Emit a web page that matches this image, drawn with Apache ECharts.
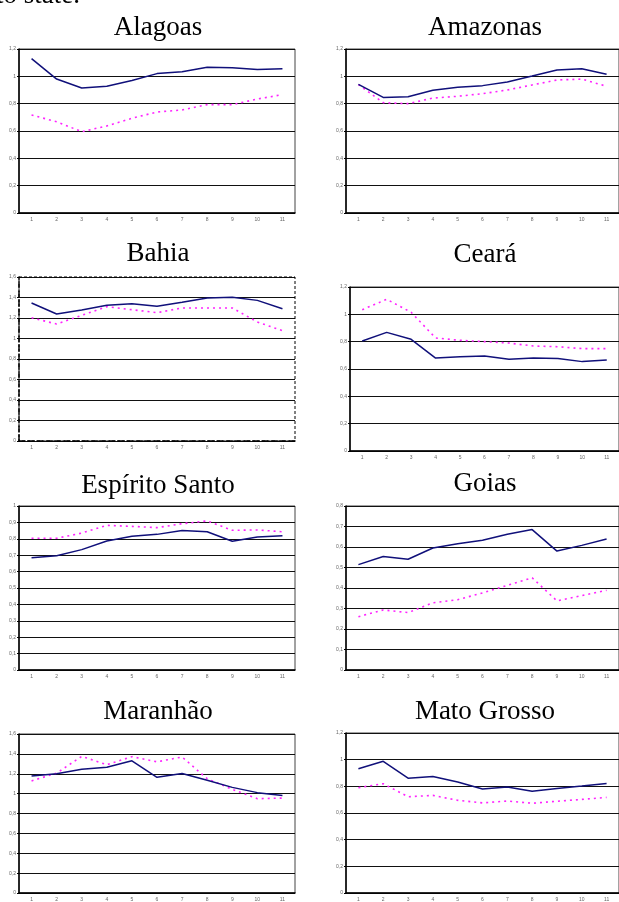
<!DOCTYPE html>
<html>
<head>
<meta charset="utf-8">
<script src="https://cdn.jsdelivr.net/npm/echarts@6/dist/echarts.min.js"></script>
<style>
    html, body { margin: 0; padding: 0; background: #fff; }
    #main { width: 619px; height: 902px; }
</style>
</head>
<body>
<div id="main"></div>
<script>
var cats = ['1', '2', '3', '4', '5', '6', '7', '8', '9', '10', '11'];

// valores (linha azul / linha rosa pontilhada)
var alagoasA = [1.13, 0.98, 0.915, 0.927, 0.97, 1.02, 1.034, 1.066, 1.063, 1.05, 1.056];
var alagoasB = [0.717, 0.668, 0.595, 0.637, 0.693, 0.739, 0.754, 0.793, 0.793, 0.834, 0.866];
var amazonasA = [0.941, 0.846, 0.851, 0.898, 0.92, 0.932, 0.959, 1.002, 1.046, 1.056, 1.015];
var amazonasB = [0.94, 0.807, 0.80, 0.841, 0.854, 0.873, 0.90, 0.937, 0.973, 0.98, 0.927];
var bahiaA = [1.346, 1.239, 1.278, 1.324, 1.34, 1.314, 1.353, 1.395, 1.402, 1.372, 1.291];
var bahiaB = [1.203, 1.141, 1.226, 1.311, 1.281, 1.252, 1.298, 1.298, 1.298, 1.161, 1.076];
var cearaA = [0.805, 0.868, 0.817, 0.68, 0.69, 0.695, 0.671, 0.68, 0.676, 0.654, 0.666];
var cearaB = [1.034, 1.11, 1.015, 0.827, 0.81, 0.80, 0.79, 0.768, 0.763, 0.749, 0.749];
var espiritoA = [0.685, 0.697, 0.734, 0.787, 0.815, 0.827, 0.85, 0.843, 0.785, 0.811, 0.819];
var espiritoB = [0.803, 0.803, 0.835, 0.882, 0.876, 0.868, 0.892, 0.909, 0.852, 0.854, 0.843];
var goiasA = [0.514, 0.554, 0.54, 0.595, 0.616, 0.633, 0.662, 0.685, 0.58, 0.608, 0.639];
var goiasB = [0.26, 0.293, 0.28, 0.328, 0.343, 0.376, 0.413, 0.45, 0.337, 0.363, 0.389];
var maranhaoA = [1.177, 1.2, 1.245, 1.265, 1.33, 1.164, 1.203, 1.134, 1.063, 1.01, 0.981];
var maranhaoB = [1.128, 1.206, 1.375, 1.291, 1.372, 1.32, 1.369, 1.15, 1.043, 0.949, 0.955];
var matoA = [0.932, 0.988, 0.861, 0.873, 0.832, 0.78, 0.795, 0.763, 0.783, 0.802, 0.822];
var matoB = [0.79, 0.82, 0.722, 0.732, 0.695, 0.676, 0.69, 0.673, 0.688, 0.702, 0.717];

var names = ['Alagoas', 'Amazonas', 'Bahia', 'Ceará', 'Espírito Santo', 'Goias', 'Maranhão', 'Mato Grosso'];
var seriesA = [alagoasA, amazonasA, bahiaA, cearaA, espiritoA, goiasA, maranhaoA, matoA];
var seriesB = [alagoasB, amazonasB, bahiaB, cearaB, espiritoB, goiasB, maranhaoB, matoB];
var yMax = [1.2, 1.2, 1.6, 1.2, 1, 0.8, 1.6, 1.2];
var yStep = [0.2, 0.2, 0.2, 0.2, 0.1, 0.1, 0.2, 0.2];

// posição de cada painel: [left, top, titleX, titleY]
var layout = [
    [19, 49, 153, 23],
    [346, 49, 480, 23],
    [19, 277, 153, 249],
    [350, 287, 480, 250],
    [19, 506, 153, 481],
    [346, 506, 480, 479],
    [19, 734, 153, 707],
    [346, 733, 480, 707]
];
var plotW = 276, plotH = 164;

var myChart = echarts.init(document.getElementById('main'), null, { renderer: 'canvas' });

function fmt(v) {
    return String(+v.toFixed(1)).replace('.', ',');
}

var grids = [], xAxes = [], yAxes = [], series = [], titles = [], graphics = [];

names.forEach(function (name, i) {
    var L = layout[i];
    var dashed = (name == 'Bahia');
    grids.push({
        left: L[0], top: L[1], width: plotW, height: plotH,
        show: !dashed, borderColor: '#444', borderWidth: 1
    });
    titles.push({
        text: name, left: L[2], top: L[3],
        textAlign: 'center', textVerticalAlign: 'middle',
        textStyle: { fontFamily: 'Liberation Serif', fontSize: 27, fontWeight: 'normal', color: '#000' }
    });
    xAxes.push({
        type: 'category', gridIndex: i, data: cats, boundaryGap: true,
        axisLine: { lineStyle: { color: '#000', width: 1.5, type: dashed ? 'dashed' : 'solid' } },
        axisTick: { length: 3, lineStyle: { color: '#000' } },
        axisLabel: { fontSize: 5, color: '#666', margin: 4, fontFamily: 'Arial' },
        splitLine: { show: false }
    });
    yAxes.push({
        type: 'value', gridIndex: i, min: 0, max: yMax[i], interval: yStep[i],
        axisLine: { show: true, lineStyle: { color: '#000', width: 1.5, type: dashed ? 'dashed' : 'solid' } },
        axisTick: { show: true, length: 2, lineStyle: { color: '#000' } },
        axisLabel: { fontSize: 5, color: '#666', margin: 3, fontFamily: 'Arial', formatter: fmt },
        splitLine: { show: true, lineStyle: { color: '#111', width: 1.2 } }
    });
    series.push({
        type: 'line', xAxisIndex: i, yAxisIndex: i, data: seriesA[i],
        symbol: 'none', smooth: false, z: 3,
        lineStyle: { color: '#10107a', width: 1.5 }
    });
    series.push({
        type: 'line', xAxisIndex: i, yAxisIndex: i, data: seriesB[i],
        symbol: 'none', smooth: false, z: 2,
        lineStyle: { color: '#ff22ff', width: 1.6, type: [2, 4] }
    });
    if (dashed) {
        graphics.push({
            type: 'rect', z: 10,
            shape: { x: L[0], y: L[1], width: plotW, height: plotH },
            style: { fill: 'none', stroke: '#000', lineWidth: 1, lineDash: [3, 2] }
        });
    }
});

// texto cortado no topo da página
graphics.push({
    type: 'text', left: -4, top: -18, z: 20,
    style: { text: 'to state.', font: '27px "Liberation Serif"', fill: '#000' }
});

var option = {
    animation: false,
    backgroundColor: '#fff',
    title: titles,
    grid: grids,
    xAxis: xAxes,
    yAxis: yAxes,
    series: series,
    graphic: graphics
};
myChart.setOption(option);
</script>
</body>
</html>
